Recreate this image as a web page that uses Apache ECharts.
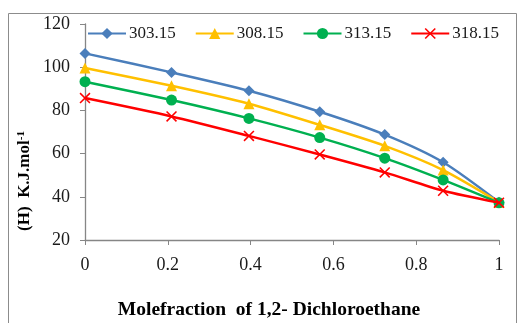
<!DOCTYPE html>
<html><head><meta charset="utf-8">
<script src="https://cdn.jsdelivr.net/npm/echarts@6/dist/echarts.min.js"></script>
<style>html,body{margin:0;padding:0;background:#fff}#c{width:518px;height:323px}</style>
</head><body><div id="c"></div>
<script>
var xValues = [0, 0.209, 0.396, 0.567, 0.724, 0.865, 1];
var seriesNames = ['303.15', '308.15', '313.15', '318.15'];
var s30315 = [106.4, 97.6, 89.1, 79.4, 68.8, 56.0, 37.5];
var s30815 = [99.6, 91.4, 83.1, 73.3, 63.6, 52.4, 37.5];
var s31315 = [93.3, 84.8, 76.3, 67.4, 57.9, 47.8, 37.2];
var s31815 = [85.7, 77.2, 68.2, 59.6, 51.3, 42.8, 37.3];
var xTicks = [0, 0.2, 0.4, 0.6, 0.8, 1];
var yTicks = [20, 40, 60, 80, 100, 120];
var xTitle = 'Molefraction  of 1,2- Dichloroethane';

var colors = ['#4A7EBB', '#FFC000', '#00B050', '#FF0000'];
var symbols = ['diamond', 'triangle', 'circle', 'path://M0,1 L1,0 L10,9 L9,10 Z M9,0 L10,1 L1,10 L0,9 Z'];
var symSizes = [11, 11, 11, 11];
var allData = [s30315, s30815, s31315, s31815];

function pairs(arr){ return xValues.map(function(x,i){ return [x, arr[i]]; }); }

var series = seriesNames.map(function(n, k){
  return {
    name: n, type: 'line', data: pairs(allData[k]),
    smooth: 0.25, symbol: symbols[k], symbolSize: symSizes[k],
    showAllSymbol: true,
    lineStyle: {color: colors[k], width: 2.5},
    itemStyle: {color: colors[k], borderWidth: 0},
    z: 2 + k
  };
});

var chart = echarts.init(document.getElementById('c'), null, {renderer: 'canvas'});
var font = '"Liberation Serif", "Times New Roman", serif';
chart.setOption({
  animation: false,
  color: colors,
  textStyle: {fontFamily: font},
  grid: {left: 85, right: 19, top: 24, bottom: 83, containLabel: false},
  legend: {
    top: 25, left: 87, padding: 0, width: 440, itemWidth: 38, itemHeight: 14, itemGap: 19,
    textStyle: {fontFamily: font, fontSize: 17, color: '#1a1a1a', padding: [0,0,0,-2]},
    data: seriesNames
  },
  xAxis: {
    type: 'value', min: 0, max: 1, interval: 0.2,
    axisLine: {lineStyle: {color: '#868686', width: 1.3}},
    axisTick: {show: true, length: 5, inside: false, lineStyle: {color: '#868686'}},
    splitLine: {show: false},
    axisLabel: {fontFamily: font, fontSize: 18, color: '#1a1a1a', margin: 16,
      formatter: function(v){ return String(Math.round(v*10)/10); }}
  },
  yAxis: {
    type: 'value', min: 20, max: 120, interval: 20,
    axisLine: {show: true, lineStyle: {color: '#868686', width: 1.3}},
    axisTick: {show: true, length: 5, inside: false, lineStyle: {color: '#868686'}},
    splitLine: {show: false},
    axisLabel: {fontFamily: font, fontSize: 18, color: '#1a1a1a', margin: 15}
  },
  graphic: [
    {type: 'rect', shape: {x: 8.5, y: 13.5, width: 508, height: 330},
     style: {fill: 'none', stroke: '#8c8c8c', lineWidth: 1}, silent: true, z: -1},
    {type: 'text', x: 269, y: 310,
     style: {text: xTitle, align: 'center', verticalAlign: 'middle',
       fontFamily: font, fontSize: 19.5, fontWeight: 'bold', fill: '#000'}},
    {type: 'text', x: 25, y: 181, rotation: Math.PI/2,
     style: {
       text: '{b|(H)  K.J.mol}{s|-1}',
       align: 'center', verticalAlign: 'middle',
       rich: {
         b: {fontFamily: font, fontSize: 17, fontWeight: 'bold', fill: '#000'},
         s: {fontFamily: font, fontSize: 11, fontWeight: 'bold', fill: '#000', verticalAlign: 'top', padding: [0,0,8,0]}
       }
     }}
  ],
  series: series
});
</script></body></html>
